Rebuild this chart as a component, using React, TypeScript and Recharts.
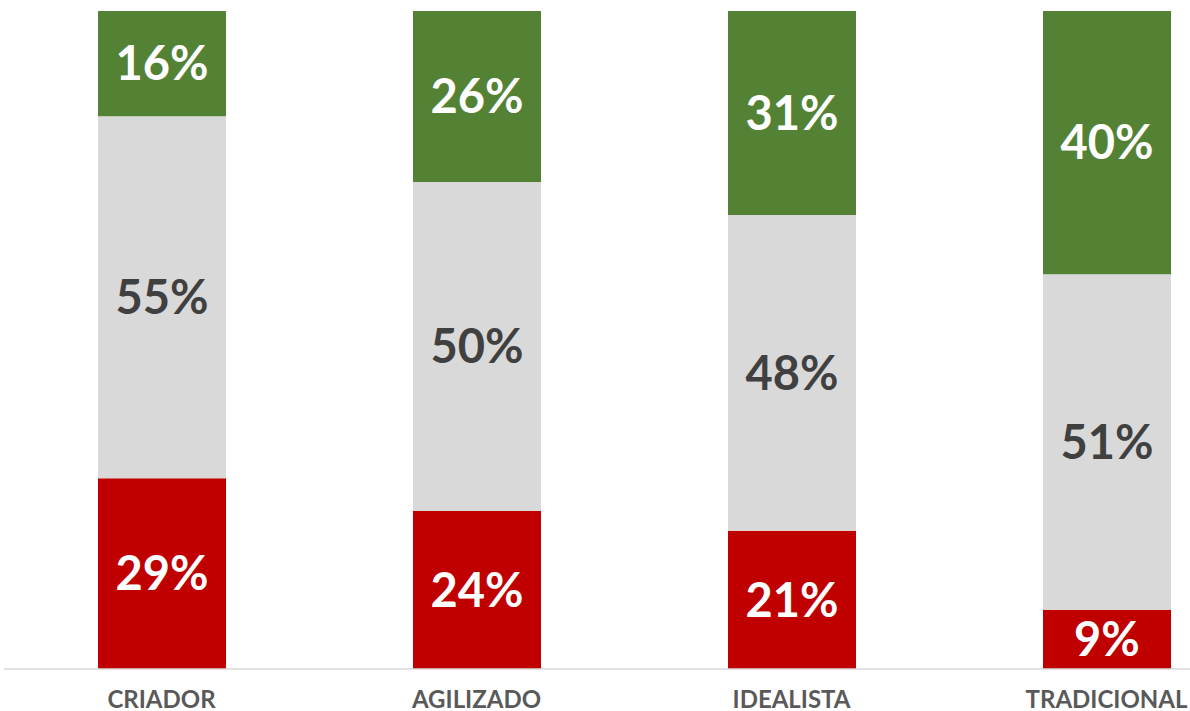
import { BarChart, Bar, XAxis, YAxis, LabelList } from 'recharts';

const categories = ['CRIADOR', 'AGILIZADO', 'IDEALISTA', 'TRADICIONAL'];
const lowValues = [29, 24, 21, 9];
const midValues = [55, 50, 48, 51];
const highValues = [16, 26, 31, 40];

const data = categories.map((name, i) => ({
  name,
  low: lowValues[i],
  mid: midValues[i],
  high: highValues[i],
}));

const labelStyle = { fontFamily: 'Lato', fontWeight: 700, fontSize: 47 };
const fmt = (v: any) => `${v}%`;

export default function App() {
  return (
    <div style={{ position: 'absolute', left: 0, top: 0, width: 1190, height: 711, overflow: 'hidden', background: '#fff' }}>
      <BarChart width={1264} height={711} data={data} margin={{ top: 11, right: 0, left: 4, bottom: 12 }}>
        <XAxis
          dataKey="name"
          axisLine={{ stroke: '#d9d9d9', strokeWidth: 1.5 }}
          tickLine={false}
          tickMargin={16}
          tick={{ fill: '#595959', fontFamily: 'Lato', fontWeight: 700, fontSize: 24 }}
          interval={0}
        />
        <YAxis hide domain={[0, 100]} />
        <Bar dataKey="low" stackId="a" fill="#c00000" barSize={128} isAnimationActive={false}>
          <LabelList dataKey="low" position="center" formatter={fmt} fill="#ffffff" style={labelStyle} />
        </Bar>
        <Bar dataKey="mid" stackId="a" fill="#d9d9d9" barSize={128} isAnimationActive={false}>
          <LabelList dataKey="mid" position="center" formatter={fmt} fill="#404040" style={labelStyle} />
        </Bar>
        <Bar dataKey="high" stackId="a" fill="#548235" barSize={128} isAnimationActive={false}>
          <LabelList dataKey="high" position="center" formatter={fmt} fill="#ffffff" style={labelStyle} />
        </Bar>
      </BarChart>
    </div>
  );
}
